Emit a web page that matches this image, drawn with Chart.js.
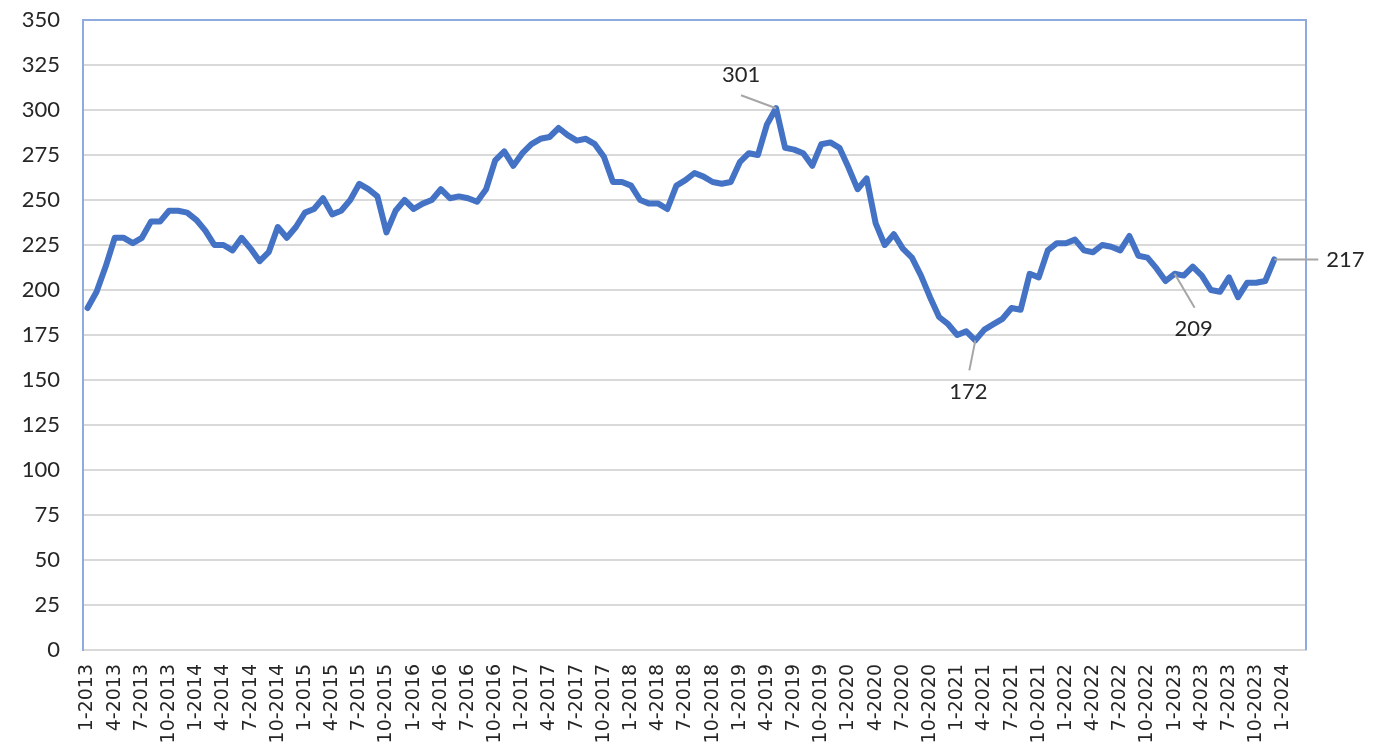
<!DOCTYPE html>
<html>
<head>
<meta charset="utf-8">
<script src="https://cdn.jsdelivr.net/npm/chart.js@4.4.1/dist/chart.umd.min.js"></script>
<style>
  html, body { margin: 0; padding: 0; background: #fff; }
  #wrap { width: 1373px; height: 755px; }
</style>
</head>
<body>
<div id="wrap"><canvas id="chart" width="1373" height="755"></canvas></div>
<script>
/* global Chart */

// category axis: one slot per month, 1-2013 .. 3-2024
const startYear = 2013;
const monthCount = 135;
const months = [];
for (let i = 0; i < monthCount; i++) {
  months.push(`${(i % 12) + 1}-${startYear + Math.floor(i / 12)}`);
}

// monthly values, 1-2013 .. 12-2023
const values = [
  190, 199, 213, 229, 229, 226, 229, 238, 238, 244,
  244, 243, 239, 233, 225, 225, 222, 229, 223, 216,
  221, 235, 229, 235, 243, 245, 251, 242, 244, 250,
  259, 256, 252, 232, 244, 250, 245, 248, 250, 256,
  251, 252, 251, 249, 256, 272, 277, 269, 276, 281,
  284, 285, 290, 286, 283, 284, 281, 274, 260, 260,
  258, 250, 248, 248, 245, 258, 261, 265, 263, 260,
  259, 260, 271, 276, 275, 292, 301, 279, 278, 276,
  269, 281, 282, 279, 268, 256, 262, 237, 225, 231,
  223, 218, 208, 196, 185, 181, 175, 177, 172, 178,
  181, 184, 190, 189, 209, 207, 222, 226, 226, 228,
  222, 221, 225, 224, 222, 230, 219, 218, 212, 205,
  209, 208, 213, 208, 200, 199, 207, 196, 204, 204,
  205, 217
];

const yMin = 0;
const yMax = 350;
const yStep = 25;

// months that carry a value callout
const calloutIdx = [76, 98, 120, 131];

const textColor = '#262626';
const blueFrame = '#8faadc';
const gridGray = '#d9d9d9';

// leader line end and text centre, relative to the point
const calloutPlace = [
  { lx: -35, ly: -13, tx: -35, ty: -33 },
  { lx: -6, ly: 30, tx: -7, ty: 52 },
  { lx: 20, ly: 34, tx: 19, ty: 55 },
  { lx: 44, ly: 0, tx: 71, ty: 1 }
];

const framePlugin = {
  id: 'frame',
  afterDatasetsDraw(chart) {
    const { ctx, chartArea: a, scales } = chart;
    ctx.save();
    ctx.strokeStyle = blueFrame;
    ctx.lineWidth = 2;
    ctx.beginPath();
    ctx.moveTo(a.left, a.top);
    ctx.lineTo(a.right, a.top);
    ctx.lineTo(a.right, a.bottom);
    ctx.stroke();

    ctx.font = '22px Lato';
    ctx.fillStyle = textColor;
    ctx.textAlign = 'center';
    ctx.textBaseline = 'middle';
    calloutIdx.forEach((idx, k) => {
      const px = scales.x.getPixelForValue(idx);
      const py = scales.y.getPixelForValue(values[idx]);
      const p = calloutPlace[k];
      ctx.strokeStyle = '#a6a6a6';
      ctx.lineWidth = 2;
      ctx.beginPath();
      ctx.moveTo(px, py);
      ctx.lineTo(px + p.lx, py + p.ly);
      ctx.stroke();
      ctx.fillText(String(values[idx]), px + p.tx, py + p.ty);
    });
    ctx.restore();
  }
};

new Chart(document.getElementById('chart').getContext('2d'), {
  type: 'line',
  data: {
    labels: months,
    datasets: [
      {
        data: values,
        borderColor: '#4472c4',
        borderWidth: 6,
        pointRadius: 0,
        tension: 0,
        borderJoinStyle: 'round',
        borderCapStyle: 'round',
        fill: false
      }
    ]
  },
  options: {
    responsive: false,
    animation: false,
    devicePixelRatio: 1,
    layout: { padding: { top: 20, right: 67, left: 0, bottom: 0 } },
    plugins: { legend: { display: false }, tooltip: { enabled: false } },
    scales: {
      x: {
        type: 'category',
        offset: true,
        grid: { display: false, drawTicks: false },
        border: { color: gridGray, width: 2 },
        ticks: {
          autoSkip: false,
          minRotation: 90,
          maxRotation: 90,
          padding: 14,
          color: textColor,
          font: { family: 'DejaVu Sans', size: 19 },
          callback: (v, i) => (i % 3 === 0 ? months[i] : '')
        },
        afterFit: (s) => {
          s.height = 105;
          s.paddingLeft = 0;
          s.paddingRight = 0;
          s.paddingTop = 0;
          s.paddingBottom = 0;
        }
      },
      y: {
        min: yMin,
        max: yMax,
        grid: { color: gridGray, lineWidth: 2, drawTicks: false },
        border: { color: blueFrame, width: 2 },
        ticks: {
          stepSize: yStep,
          padding: 23,
          color: textColor,
          font: { family: 'Lato', size: 22 }
        },
        afterFit: (s) => {
          s.width = 83;
          s.paddingTop = 0;
          s.paddingBottom = 0;
        }
      }
    }
  },
  plugins: [framePlugin]
});
</script>
</body>
</html>
